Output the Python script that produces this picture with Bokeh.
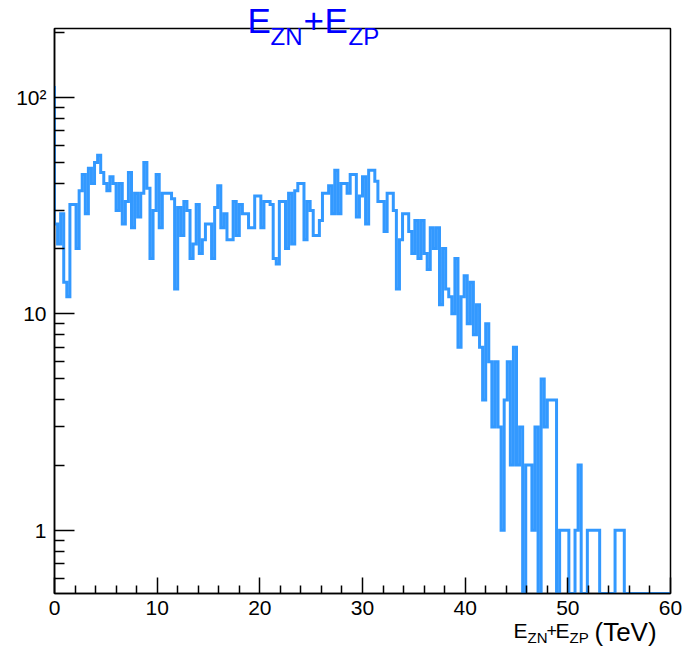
import numpy as np
from bokeh.plotting import figure
from bokeh.models import Range1d, FixedTicker
from bokeh.core.properties import value
from bokeh.embed import file_html
from bokeh.resources import INLINE

# ---- data ----
bin_width = 0.3            # TeV
x_min_hist = -0.3          # first (underflow-side) bin edge, hidden left of the axis
underflow_count = 111
counts = [
    26, 21, 29, 14, 12, 32, 32, 20, 37, 44,
    29, 47, 40, 50, 54, 45, 40, 37, 43, 40,
    30, 40, 26, 33, 45, 25, 36, 28, 36, 50,
    38, 18, 30, 44, 25, 36, 36, 36, 34, 13,
    31, 23, 33, 30, 18, 21, 32, 19, 22, 26,
    26, 18, 31, 39, 25, 29, 22, 22, 33, 23,
    32, 29, 29, 25, 25, 35, 35, 25, 33, 33,
    32, 18, 17, 33, 33, 20, 36, 21, 37, 40,
    40, 22, 33, 30, 23, 23, 27, 36, 36, 39,
    29, 46, 29, 40, 40, 36, 44, 44, 28, 35,
    43, 26, 46, 46, 41, 33, 33, 24, 36, 36,
    30, 13, 22, 29, 29, 24, 19, 27, 18, 27,
    19, 16, 25, 20, 25, 11, 20, 13, 12, 10,
    18, 7, 12, 15, 9, 14, 8, 11, 7, 4,
    9, 6, 3, 6, 3, 1, 4, 6, 2, 7,
    2, 3, 0, 2, 2, 1, 3, 0, 5, 3,
    4, 4, 4, 0, 1, 1, 1, 0, 0, 1,
    2, 0, 0, 1, 1, 1, 1, 0, 0, 0,
    0, 0, 1, 1, 1, 0, 0, 0, 0, 0,
    0, 0, 0, 0, 0, 0, 0, 0, 0, 0,
]
x_ticks = [0, 10, 20, 30, 40, 50, 60]
y_ticks = [1, 10, 100]
y_tick_labels = {1: "1", 10: "10", 100: "10\u00b2"}

Y_MIN, Y_MAX = 0.51, 208
X_MIN, X_MAX = 0, 60

# ---- build histogram outline ----
vals = np.array([underflow_count] + counts, dtype=float)
n = len(vals)
edges = x_min_hist + bin_width * np.arange(n + 1)
draw_vals = np.where(vals > 0, vals, Y_MIN)
xs = edges
ys = np.append(draw_vals, draw_vals[-1])

FONT = "Liberation Sans"
HIST_COLOR = "#3399ff"

W, H = 684, 650
BL, BR, BT, BB = 54, 14, 28, 57

p = figure(width=W, height=H, y_axis_type="log",
           x_range=Range1d(X_MIN, X_MAX), y_range=Range1d(Y_MIN, Y_MAX),
           output_backend="svg", toolbar_location=None, title=None,
           min_border_left=BL, min_border_right=BR,
           min_border_top=BT, min_border_bottom=BB)

p.step(xs, ys, mode="after", line_color=HIST_COLOR, line_width=3,
       line_join="miter")

p.grid.visible = False
p.outline_line_color = "black"
p.outline_line_width = 1.5
p.background_fill_color = "white"
p.border_fill_color = "white"

# x axis
xminor = [v for v in np.arange(2, 60, 2).tolist() if v % 10 != 0]
p.xaxis.ticker = FixedTicker(ticks=x_ticks, minor_ticks=xminor)
p.xaxis.major_tick_in = 16
p.xaxis.major_tick_out = 0
p.xaxis.minor_tick_in = 8
p.xaxis.minor_tick_out = 0
p.xaxis.axis_line_color = "black"
p.xaxis.axis_line_width = 1.5
p.xaxis.major_tick_line_width = 1.5
p.xaxis.minor_tick_line_width = 1.5
p.xaxis.major_label_text_font = FONT
p.xaxis.major_label_text_font_size = "21px"
p.xaxis.major_label_text_color = "black"
p.xaxis.major_label_standoff = 7

# y axis
yminor = [0.6, 0.7, 0.8, 0.9] + list(range(2, 10)) + list(range(20, 100, 10)) + [200]
p.yaxis.ticker = FixedTicker(ticks=y_ticks, minor_ticks=yminor)
p.yaxis.major_label_overrides = y_tick_labels
p.yaxis.major_tick_in = 20
p.yaxis.major_tick_out = 0
p.yaxis.minor_tick_in = 10
p.yaxis.minor_tick_out = 0
p.yaxis.axis_line_color = "black"
p.yaxis.axis_line_width = 1.5
p.yaxis.major_tick_line_width = 1.5
p.yaxis.minor_tick_line_width = 1.5
p.yaxis.major_label_text_font = FONT
p.yaxis.major_label_text_font_size = "21px"
p.yaxis.major_label_text_color = "black"
p.yaxis.major_label_standoff = 8

# ---- composite texts with subscripts (pixel layout converted to data space) ----
FW = W - BL - BR
FH = H - BT - BB
LY0, LY1 = np.log10(Y_MIN), np.log10(Y_MAX)

def px_to_x(px):
    return X_MIN + (px - BL) / FW * (X_MAX - X_MIN)

def py_to_y(py):
    return 10 ** (LY0 + (H - BB - py) / FH * (LY1 - LY0))

def put(pieces, color):
    # pieces: (text, pixel x, pixel y of the glyphs' middle, font size)
    for txt, cx, cy, size in pieces:
        p.text(x=[px_to_x(cx)], y=[py_to_y(cy)], text=[txt],
               text_font=value(FONT), text_font_size=value(f"{size}px"),
               text_color=color, text_baseline="middle",
               text_align="left", level="overlay")

# title  E_ZN + E_ZP
put([("E", 247, 20, 35), ("ZN", 270, 36, 24), ("+", 303, 20, 35),
     ("E", 324, 20, 35), ("ZP", 348, 36, 24)], "#0000ff")

# x axis title  E_ZN + E_ZP (TeV)
put([("E", 513, 630, 21), ("ZN", 527, 637, 15), ("+", 546, 630, 18),
     ("E", 555, 630, 21), ("ZP", 569, 637, 15), ("(TeV)", 594, 631, 26)], "black")

open("out.html", "w").write(file_html(p, INLINE))
